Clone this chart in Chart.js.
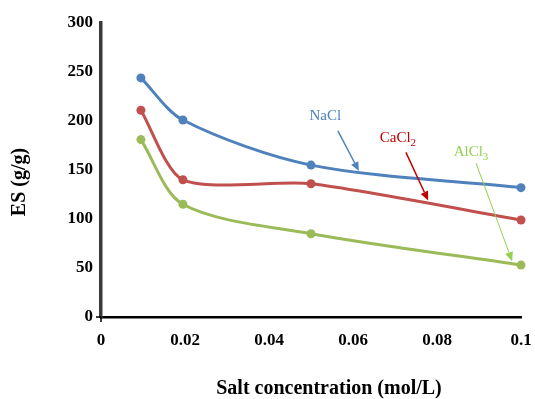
<!DOCTYPE html>
<html>
<head>
<meta charset="utf-8">
<script src="https://cdn.jsdelivr.net/npm/chart.js@4/dist/chart.umd.min.js"></script>
<style>
  html, body { margin: 0; padding: 0; background: #fff; }
  #wrap { width: 535px; height: 399px; }
</style>
</head>
<body>
<div id="wrap"><canvas id="chart" width="535" height="399"></canvas></div>
<script>
// salt concentration (mol/L)
const concentrations = [0.0095, 0.0195, 0.05, 0.1];
// ES (g/g) for each salt
const nacl = [244, 201, 155, 132];
const cacl2 = [211, 140, 136, 99];
const alcl3 = [181, 115, 85, 53];

const xTicks = [0, 0.02, 0.04, 0.06, 0.08, 0.1];
const yTicks = [0, 50, 100, 150, 200, 250, 300];

const COLORS = {
    blue: '#4f81bd',
    red: '#c0504d',
    green: '#9bbb59'
};

// labels with arrows, in data units: text spot, arrow start, arrow tip
const callouts = [
    { base: 'NaCl', sub: '', color: COLORS.blue, text: [0.0534, 205], from: [0.0564, 190], to: [0.0614, 149], width: 1.5 },
    { base: 'CaCl', sub: '2', color: '#c00000', text: [0.0707, 183], from: [0.0726, 168], to: [0.0779, 119], width: 1.5 },
    { base: 'AlCl', sub: '3', color: '#92d050', text: [0.0881, 168], from: [0.0893, 157], to: [0.0979, 57], width: 1 }
];

function toPoints(values) {
    return concentrations.map((c, i) => ({ x: c, y: values[i] }));
}

function series(label, values, color, tension) {
    return {
        label: label,
        data: toPoints(values),
        borderColor: color,
        backgroundColor: color,
        borderWidth: 3,
        pointRadius: 4.5,
        pointHoverRadius: 4.5,
        pointBorderWidth: 0,
        tension: tension,
        clip: false,
        fill: false
    };
}

const calloutPlugin = {
    id: 'callouts',
    afterDraw(chart) {
        const ctx = chart.ctx;
        const xs = chart.scales.x;
        const ys = chart.scales.y;
        const area = chart.chartArea;

        // axis titles
        ctx.save();
        ctx.fillStyle = '#000';
        ctx.font = 'bold 20px "Liberation Serif", "Times New Roman", serif';
        ctx.textAlign = 'center';
        ctx.textBaseline = 'middle';
        ctx.fillText('Salt concentration (mol/L)', (area.left + area.right) / 2 + 18, 389);
        ctx.translate(20, (area.top + area.bottom) / 2 + 12);
        ctx.rotate(-Math.PI / 2);
        ctx.fillText('ES (g/g)', 0, 0);
        ctx.restore();

        // little tick marks at the origin
        ctx.save();
        ctx.strokeStyle = '#000';
        ctx.lineWidth = 1.5;
        ctx.beginPath();
        ctx.moveTo(area.left - 5, ys.getPixelForValue(0));
        ctx.lineTo(area.left, ys.getPixelForValue(0));
        ctx.moveTo(xs.getPixelForValue(0), area.bottom);
        ctx.lineTo(xs.getPixelForValue(0), area.bottom + 5);
        ctx.stroke();
        ctx.restore();

        for (const c of callouts) {
            const tx = xs.getPixelForValue(c.text[0]);
            const ty = ys.getPixelForValue(c.text[1]);
            const x1 = xs.getPixelForValue(c.from[0]);
            const y1 = ys.getPixelForValue(c.from[1]);
            const x2 = xs.getPixelForValue(c.to[0]);
            const y2 = ys.getPixelForValue(c.to[1]);

            ctx.save();
            ctx.fillStyle = c.color;
            ctx.strokeStyle = c.color;
            ctx.textBaseline = 'middle';
            ctx.font = '15px "Liberation Serif", "Times New Roman", serif';
            const wBase = ctx.measureText(c.base).width;
            ctx.font = '11px "Liberation Serif", "Times New Roman", serif';
            const wSub = c.sub ? ctx.measureText(c.sub).width : 0;
            const start = tx - (wBase + wSub) / 2;
            ctx.font = '15px "Liberation Serif", "Times New Roman", serif';
            ctx.textAlign = 'left';
            ctx.fillText(c.base, start, ty);
            if (c.sub) {
                ctx.font = '11px "Liberation Serif", "Times New Roman", serif';
                ctx.fillText(c.sub, start + wBase, ty + 5);
            }

            // arrow
            const ang = Math.atan2(y2 - y1, x2 - x1);
            const head = 9;
            const bx = x2 - head * Math.cos(ang);
            const by = y2 - head * Math.sin(ang);
            ctx.lineWidth = c.width;
            ctx.beginPath();
            ctx.moveTo(x1, y1);
            ctx.lineTo(bx, by);
            ctx.stroke();
            ctx.beginPath();
            ctx.moveTo(x2, y2);
            ctx.lineTo(bx + 4 * Math.sin(ang), by - 4 * Math.cos(ang));
            ctx.lineTo(bx - 4 * Math.sin(ang), by + 4 * Math.cos(ang));
            ctx.closePath();
            ctx.fill();
            ctx.restore();
        }
    }
};

const tickFont = { family: '"Liberation Serif", "Times New Roman", serif', size: 17, weight: 'bold' };

const chart = new Chart(document.getElementById('chart'), {
    type: 'line',
    data: {
        datasets: [
            series('NaCl', nacl, COLORS.blue, 0.3),
            series('CaCl2', cacl2, COLORS.red, 0.25),
            series('AlCl3', alcl3, COLORS.green, 0.3)
        ]
    },
    options: {
        responsive: false,
        maintainAspectRatio: false,
        animation: false,
        layout: { padding: { top: 23, right: 14, left: 0, bottom: 0 } },
        plugins: {
            legend: { display: false },
            tooltip: { enabled: false },
            title: { display: false }
        },
        scales: {
            x: {
                type: 'linear',
                min: 0,
                max: 0.1,
                afterFit: s => { s.height = 82; s.paddingLeft = 0; s.paddingRight = 0; },
                afterBuildTicks: s => { s.ticks = xTicks.map(v => ({ value: v })); },
                grid: { display: false, drawTicks: false },
                border: { display: true, color: '#000', width: 2.5 },
                ticks: {
                    color: '#000',
                    font: tickFont,
                    padding: 13,
                    maxRotation: 0,
                    callback: v => String(Number(v.toFixed(2)))
                }
            },
            y: {
                min: 0,
                max: 300,
                afterFit: s => { s.width = 101; s.paddingTop = 0; s.paddingBottom = 0; },
                afterBuildTicks: s => { s.ticks = yTicks.map(v => ({ value: v })); },
                grid: { display: false, drawTicks: false },
                border: { display: true, color: '#3a3a3a', width: 3.5 },
                ticks: {
                    color: '#000',
                    font: tickFont,
                    padding: 8
                }
            }
        }
    },
    plugins: [calloutPlugin]
});
</script>
</body>
</html>
